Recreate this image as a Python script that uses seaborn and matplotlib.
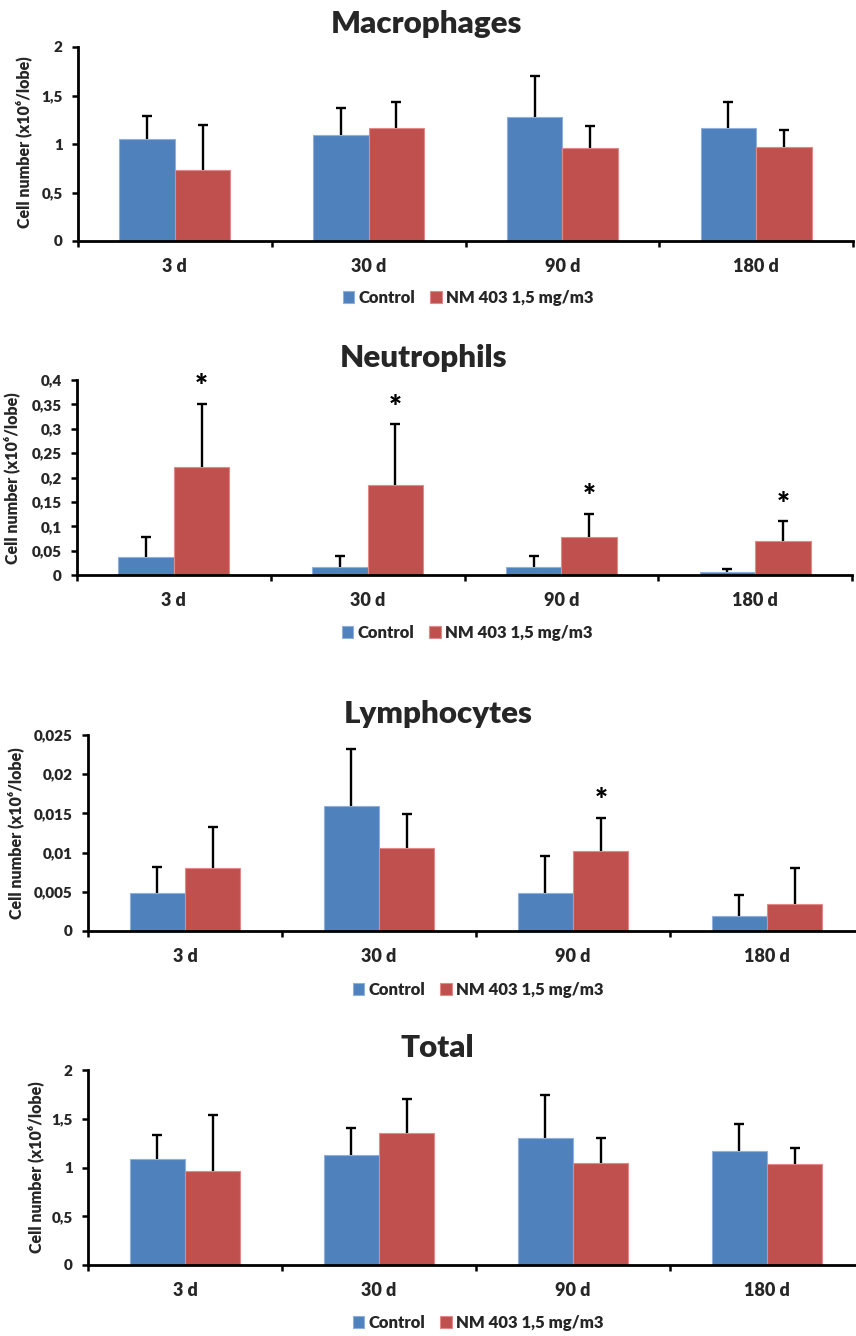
import numpy as np
import pandas as pd
import matplotlib
matplotlib.use("Agg")
import matplotlib.pyplot as plt
import seaborn as sns
from matplotlib.ticker import FixedLocator

# ---- data -------------------------------------------------------------
days = ["3 d", "30 d", "90 d", "180 d"]
groups = ["Control", "NM 403 1,5 mg/m3"]

macro_ctrl = [1.05, 1.09, 1.28, 1.16]
macro_ctrl_sd = [0.24, 0.28, 0.42, 0.27]
macro_nm = [0.73, 1.16, 0.96, 0.97]
macro_nm_sd = [0.47, 0.27, 0.23, 0.17]

neutro_ctrl = [0.036, 0.017, 0.016, 0.007]
neutro_ctrl_sd = [0.041, 0.021, 0.023, 0.006]
neutro_nm = [0.221, 0.184, 0.077, 0.070]
neutro_nm_sd = [0.130, 0.125, 0.049, 0.040]
neutro_sig = [True, True, True, True]

lympho_ctrl = [0.0049, 0.0159, 0.0048, 0.0019]
lympho_ctrl_sd = [0.0032, 0.0073, 0.0048, 0.0027]
lympho_nm = [0.0080, 0.0106, 0.0102, 0.0035]
lympho_nm_sd = [0.0053, 0.0043, 0.0042, 0.0045]
lympho_sig = [False, False, True, False]

total_ctrl = [1.09, 1.13, 1.30, 1.17]
total_ctrl_sd = [0.24, 0.28, 0.44, 0.28]
total_nm = [0.96, 1.35, 1.05, 1.04]
total_nm_sd = [0.58, 0.35, 0.25, 0.16]

ticks_million = [0, 0.5, 1, 1.5, 2]
ticklabels_million = ["0", "0,5", "1", "1,5", "2"]
ticks_neutro = [0, 0.05, 0.1, 0.15, 0.2, 0.25, 0.3, 0.35, 0.4]
ticklabels_neutro = ["0", "0,05", "0,1", "0,15", "0,2", "0,25", "0,3", "0,35", "0,4"]
ticks_lympho = [0, 0.005, 0.01, 0.015, 0.02, 0.025]
ticklabels_lympho = ["0", "0,005", "0,01", "0,015", "0,02", "0,025"]

ylabel = "Cell number (x10\u2076/lobe)"

# ---- style ------------------------------------------------------------
sns.set_theme(style="white")
plt.rcParams["font.family"] = ["Lato", "DejaVu Sans"]
WEIGHT = "heavy"
plt.rcParams["font.weight"] = WEIGHT

BLUE = "#4F81BD"
RED = "#C0504D"
EDGE = {BLUE: "#8FB0DA", RED: "#E08A88"}

W, H = 856, 1336
fig = plt.figure(figsize=(W / 100, H / 100), dpi=100)


def axes_at(left, right, top, bottom):
    return fig.add_axes([left / W, 1 - bottom / H, (right - left) / W, (bottom - top) / H])


def fx(x):
    return x / W


def fy(y):
    return 1 - y / H


def panel(box, title, title_xy, ylab_xy, legend_xy, ctrl, ctrl_sd, nm, nm_sd,
          yticks, yticklabels, sig=None):
    ax = axes_at(*box)
    df = pd.DataFrame({
        "day": days * 2,
        "group": [groups[0]] * 4 + [groups[1]] * 4,
        "value": list(ctrl) + list(nm),
    })
    sns.barplot(data=df, x="day", y="value", hue="group", order=days,
                hue_order=groups, palette=[BLUE, RED], saturation=1,
                width=0.572, errorbar=None, legend=False, ax=ax)

    sds = [ctrl_sd, nm_sd]
    handles = []
    bar_containers = list(ax.containers)
    for ci, cont in enumerate(bar_containers):
        xs, hs = [], []
        for p in cont.patches:
            xs.append(p.get_x() + p.get_width() / 2)
            hs.append(p.get_height())
            col = matplotlib.colors.to_hex(p.get_facecolor())
            p.set_edgecolor(EDGE.get(col.upper(), "white"))
            p.set_linewidth(0.8)
        err = np.array(sds[ci])
        eb = ax.errorbar(xs, hs, yerr=[np.zeros_like(err), err], fmt="none",
                         ecolor="black", elinewidth=1.7, capsize=3.4,
                         capthick=1.7, zorder=3)
        # keep only the upper caps
        eb[1][0].set_visible(False)
        handles.append(cont.patches[0])
        if ci == 1 and sig is not None:
            for x, h, e, s in zip(xs, hs, err, sig):
                if s:
                    ax.annotate("*", (x, h + e), xytext=(0, 12),
                                textcoords="offset points", ha="center",
                                va="center", fontsize=22, fontweight=WEIGHT,
                                color="black")

    ax.set_xlim(-0.5, 3.5)
    ax.set_ylim(yticks[0], yticks[-1])
    ax.yaxis.set_major_locator(FixedLocator(yticks))
    ax.set_yticklabels(yticklabels)
    ax.set_xticks(range(len(days)))
    ax.set_xticklabels(days)
    ax.xaxis.set_minor_locator(FixedLocator(np.arange(-0.5, 4.0, 1.0)))
    ax.set_xlabel("")
    ax.set_ylabel("")

    for side in ("top", "right"):
        ax.spines[side].set_visible(False)
    for side in ("left", "bottom"):
        ax.spines[side].set_color("black")
        ax.spines[side].set_linewidth(2.0)
    ax.tick_params(axis="y", which="major", direction="out", length=4,
                   width=1.8, color="black", pad=7, labelsize=11, left=True)
    ax.tick_params(axis="x", which="major", length=0, pad=12, labelsize=13)
    ax.tick_params(axis="x", which="minor", direction="out", length=4,
                   width=1.8, color="black", bottom=True)
    for lab in ax.get_xticklabels() + ax.get_yticklabels():
        lab.set_fontweight(WEIGHT)

    fig.text(fx(title_xy[0]), fy(title_xy[1]), title, ha="center", va="center",
             fontsize=22.5, fontweight=WEIGHT)
    fig.text(fx(ylab_xy[0]), fy(ylab_xy[1]), ylabel, ha="center", va="center",
             rotation=90, fontsize=11.5, fontweight=WEIGHT)
    ax.legend(handles, groups, loc="center",
              bbox_to_anchor=(fx(legend_xy[0]), fy(legend_xy[1])),
              bbox_transform=fig.transFigure, ncol=2, frameon=False,
              handlelength=0.7, handleheight=0.7, handletextpad=0.25,
              columnspacing=0.9, borderaxespad=0,
              prop={"weight": WEIGHT, "size": 12})
    return ax


panel((78, 853, 47, 241), "Macrophages", (426, 24), (24, 142), (468, 298),
      macro_ctrl, macro_ctrl_sd, macro_nm, macro_nm_sd,
      ticks_million, ticklabels_million)
panel((77, 852, 380, 575), "Neutrophils", (424, 358), (12, 478), (467, 633),
      neutro_ctrl, neutro_ctrl_sd, neutro_nm, neutro_nm_sd,
      ticks_neutro, ticklabels_neutro, sig=neutro_sig)
panel((88, 864, 735, 931), "Lymphocytes", (438, 714), (16, 833), (478, 990),
      lympho_ctrl, lympho_ctrl_sd, lympho_nm, lympho_nm_sd,
      ticks_lympho, ticklabels_lympho, sig=lympho_sig)
panel((88, 864, 1070, 1265), "Total", (437, 1048), (36, 1167), (478, 1323),
      total_ctrl, total_ctrl_sd, total_nm, total_nm_sd,
      ticks_million, ticklabels_million)

fig.savefig("out.png", dpi=100, facecolor="white")
